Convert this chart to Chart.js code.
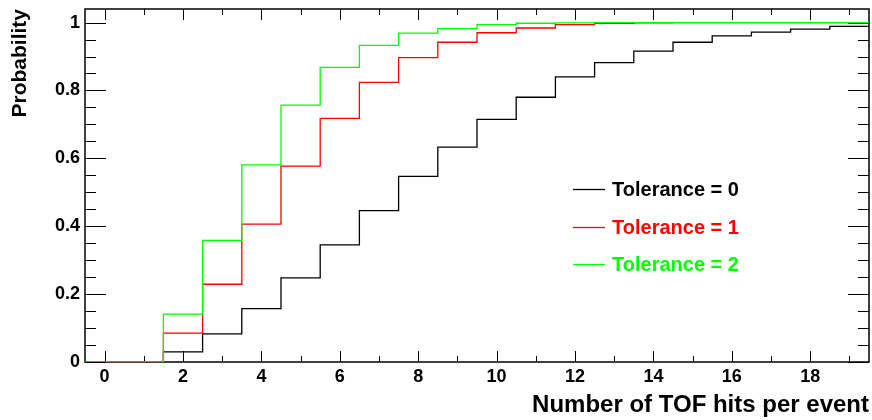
<!DOCTYPE html>
<html>
<head>
<meta charset="utf-8">
<script src="https://cdn.jsdelivr.net/npm/chart.js@4"></script>
<style>
  body { margin: 0; background: #fff; }
  canvas { display: block; }
</style>
</head>
<body>
<canvas id="tofChart" width="872" height="420"></canvas>
<script>
// bin centres: number of TOF hits per event
const hits = [0, 1, 2, 3, 4, 5, 6, 7, 8, 9, 10, 11, 12, 13, 14, 15, 16, 17, 18, 19];

// cumulative probability per bin, one array per tolerance setting
const tolerance0 = [0, 0, 0.030, 0.083, 0.157, 0.248, 0.345, 0.446, 0.547, 0.633,
                    0.715, 0.780, 0.840, 0.882, 0.916, 0.942, 0.961, 0.972, 0.981, 0.989];
const tolerance1 = [0, 0, 0.085, 0.229, 0.406, 0.577, 0.718, 0.824, 0.897, 0.942,
                    0.970, 0.984, 0.994, 0.998, 0.999, 1, 1, 1, 1, 1];
const tolerance2 = [0, 0, 0.141, 0.358, 0.581, 0.757, 0.868, 0.933, 0.969, 0.982,
                    0.994, 0.998, 0.999, 1, 1, 1, 1, 1, 1, 1];

const seriesNames = ['Tolerance = 0', 'Tolerance = 1', 'Tolerance = 2'];
const seriesColors = ['#000000', '#ff0000', '#00ff00'];

const xTickValues = hits;
const yTickValues = [];
for (let i = 0; i <= 20; i++) yTickValues.push(i * 0.05);

const FONT = 'Liberation Sans, Arial, Helvetica, sans-serif';

// turn bin contents into histogram outline points (left edges + closing right edge)
function toSteps(values) {
    const pts = values.map((v, i) => ({ x: hits[i] - 0.5, y: v }));
    pts.push({ x: hits[hits.length - 1] + 0.5, y: values[values.length - 1] });
    return pts;
}

function isMultiple(v, step) {
    return Math.abs(v / step - Math.round(v / step)) < 1e-6;
}

// frame and inward tick marks on all four sides
const framePlugin = {
    id: 'frame',
    beforeDatasetsDraw(chart) {
        const { ctx, chartArea: a, scales } = chart;
        ctx.save();
        ctx.strokeStyle = '#000';
        ctx.lineWidth = 1;
        ctx.beginPath();
        scales.x.ticks.forEach(t => {
            const px = Math.round(scales.x.getPixelForValue(t.value)) + 0.5;
            const len = isMultiple(t.value, 2) ? 11 : 6;
            ctx.moveTo(px, a.bottom); ctx.lineTo(px, a.bottom - len);
            ctx.moveTo(px, a.top); ctx.lineTo(px, a.top + len);
        });
        scales.y.ticks.forEach(t => {
            const py = Math.round(scales.y.getPixelForValue(t.value)) + 0.5;
            const len = isMultiple(t.value, 0.2) ? 21 : 11;
            ctx.moveTo(a.left, py); ctx.lineTo(a.left + len, py);
            ctx.moveTo(a.right, py); ctx.lineTo(a.right - len, py);
        });
        ctx.stroke();
        ctx.lineWidth = 1.5;
        ctx.strokeRect(a.left, a.top, a.right - a.left, a.bottom - a.top);
        ctx.restore();
    }
};

// legend box without border, placed inside the plot
const legendPlugin = {
    id: 'stepLegend',
    afterDatasetsDraw(chart) {
        const { ctx } = chart;
        const rows = [189, 227, 264];
        ctx.save();
        ctx.font = 'bold 20px ' + FONT;
        ctx.textBaseline = 'middle';
        ctx.textAlign = 'left';
        seriesNames.forEach((name, i) => {
            ctx.strokeStyle = seriesColors[i];
            ctx.lineWidth = 1.3;
            ctx.beginPath();
            ctx.moveTo(573, rows[i] + 0.5);
            ctx.lineTo(605, rows[i] + 0.5);
            ctx.stroke();
            ctx.fillStyle = seriesColors[i];
            ctx.fillText(name, 612, rows[i] + 1);
        });
        ctx.restore();
    }
};

const ctx = document.getElementById('tofChart').getContext('2d');
new Chart(ctx, {
    type: 'line',
    data: {
        datasets: [tolerance0, tolerance1, tolerance2].map((vals, i) => ({
            label: seriesNames[i],
            data: toSteps(vals),
            borderColor: seriesColors[i],
            borderWidth: 1.3,
            pointRadius: 0,
            stepped: true,
            fill: false,
            order: 2 - i
        }))
    },
    options: {
        responsive: false,
        animation: false,
        layout: { padding: { top: 9, right: 3, left: 0, bottom: 0 } },
        plugins: {
            legend: { display: false },
            tooltip: { enabled: false }
        },
        scales: {
            x: {
                type: 'linear',
                min: -0.5,
                max: 19.5,
                afterBuildTicks: scale => { scale.ticks = xTickValues.map(v => ({ value: v })); },
                afterFit: scale => {
                    scale.height = 58;
                    scale.paddingLeft = 0;
                    scale.paddingRight = 0;
                },
                grid: { display: false, drawTicks: false },
                border: { display: false },
                ticks: {
                    autoSkip: false,
                    maxRotation: 0,
                    padding: 4,
                    color: '#000',
                    font: { family: FONT, size: 18, weight: 'bold' },
                    callback: v => (isMultiple(v, 2) ? String(v) : '')
                },
                title: {
                    display: true,
                    text: 'Number of TOF hits per event',
                    align: 'end',
                    color: '#000',
                    padding: { top: 0, bottom: 0 },
                    font: { family: FONT, size: 24, weight: 'bold' }
                }
            },
            y: {
                min: 0,
                max: 1.04,
                afterBuildTicks: scale => { scale.ticks = yTickValues.map(v => ({ value: v })); },
                afterFit: scale => {
                    scale.width = 85;
                    scale.paddingTop = 0;
                    scale.paddingBottom = 0;
                },
                grid: { display: false, drawTicks: false },
                border: { display: false },
                ticks: {
                    autoSkip: false,
                    padding: 5,
                    color: '#000',
                    font: { family: FONT, size: 18, weight: 'bold' },
                    callback: v => (isMultiple(v, 0.2) ? String(Math.round(v * 10) / 10) : '')
                },
                title: {
                    display: true,
                    text: 'Probability',
                    align: 'end',
                    color: '#000',
                    padding: { top: 8, bottom: 0 },
                    font: { family: FONT, size: 21, weight: 'bold' }
                }
            }
        }
    },
    plugins: [framePlugin, legendPlugin]
});
</script>
</body>
</html>
